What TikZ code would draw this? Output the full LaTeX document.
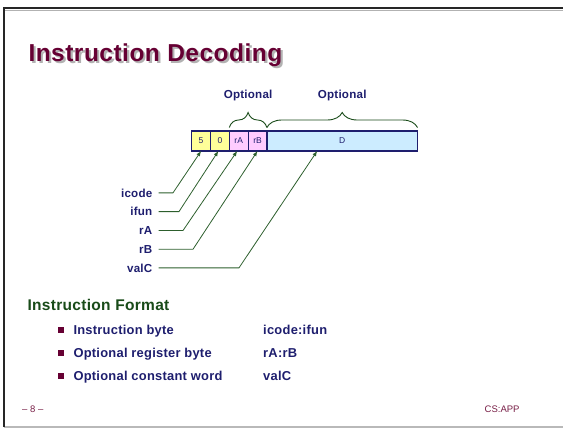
\documentclass[tikz,border=0pt]{standalone}
\usepackage{fontspec}
\setmainfont{Liberation Sans}
\newfontfamily\slidefont[LetterSpace=2]{Liberation Sans}
\usetikzlibrary{arrows,positioning,decorations.pathreplacing}
\definecolor{navy}{RGB}{30,30,110}
\definecolor{titlered}{RGB}{102,0,51}
\definecolor{darkgreen}{RGB}{25,75,25}
\definecolor{linegreen}{RGB}{45,95,45}
\definecolor{byteyellow}{RGB}{255,255,153}
\definecolor{regpink}{RGB}{255,204,255}
\definecolor{constblue}{RGB}{204,236,255}
\definecolor{footred}{RGB}{120,30,70}
\tikzset{title/.style={anchor=base west,inner sep=0pt,text=titlered,font=\slidefont\fontsize{24.5}{29}\selectfont\bfseries}}
\tikzset{cell/.style={draw=navy,line width=1.2pt,outer sep=0pt,inner sep=0pt,minimum height=20pt,text=navy,font=\fontsize{8.5}{10}\selectfont}}
\tikzset{ibyte/.style={cell,fill=byteyellow,minimum width=18.8pt}}
\tikzset{rbyte/.style={cell,fill=regpink,minimum width=18.8pt}}
\tikzset{cword/.style={cell,fill=constblue,minimum width=150.6pt}}
\tikzset{field/.style={anchor=base east,inner xsep=6pt,inner ysep=0pt,text=navy,font=\slidefont\fontsize{11.6}{14}\selectfont\bfseries}}
\tikzset{ptr/.style={draw=linegreen,line width=0.8pt,-latex}}
\tikzset{opt/.style={decorate,decoration={brace,amplitude=15pt},draw=darkgreen,line width=0.9pt}}
\tikzset{optlabel/.style={anchor=base,inner sep=0pt,text=navy,font=\slidefont\fontsize{11.6}{14}\selectfont\bfseries}}
\tikzset{heading/.style={anchor=base west,inner sep=0pt,text=darkgreen,font=\slidefont\fontsize{15.5}{18}\selectfont\bfseries}}
\tikzset{item/.style={anchor=base west,inner sep=0pt,text=navy,font=\slidefont\fontsize{12.9}{15}\selectfont\bfseries}}
\tikzset{bullet/.style={fill=titlered,minimum size=6pt,inner sep=0pt}}
\tikzset{foot/.style={inner sep=0pt,text=footred,font=\fontsize{9.5}{11}\selectfont}}

\begin{document}
\begin{tikzpicture}[x=1pt,y=-1pt]
    \useasboundingbox (0,0) rectangle (563,428);
    % slide frame
    \draw[gray!55,line width=1.2pt] (4,427) -- (570,427);
    \draw[gray!60,line width=1pt] (5,10.3) -- (570,10.3);
    \draw[black!85,line width=1.8pt] (4,427) -- (4,8.3) -- (570,8.3);

    \node[title,text=gray!60] (shadow) at (30.5,64) {Instruction Decoding};
    \node[title] (title) at (28.3,61.7) {Instruction Decoding};

    % instruction bytes
    \node[ibyte] (icodecell) at (201.1,141) {5};
    \node[ibyte,right=0pt of icodecell] (ifuncell) {0};
    \node[rbyte,right=0pt of ifuncell] (racell) {rA};
    \node[rbyte,right=0pt of racell] (rbcell) {rB};
    \node[cword,right=0pt of rbcell] (dcell) {D};

    \draw[opt] ([yshift=3.5pt]racell.north west) -- ([yshift=3.5pt]rbcell.north east)
        node[midway,optlabel,yshift=29pt] (opt1) {Optional};
    \draw[opt] ([yshift=3.5pt]dcell.north west) -- ([yshift=3.5pt]dcell.north east)
        node[midway,optlabel,yshift=29pt] (opt2) {Optional};

    \node[field] (icode) at (158.5,197) {icode};
    \node[field] (ifun) at (158.5,215.75) {ifun};
    \node[field] (ra) at (158.5,234.5) {rA};
    \node[field] (rb) at (158.5,253.25) {rB};
    \node[field] (valc) at (158.5,272) {valC};

        \draw[ptr] (icode.east) -- ++(14.5,0) -- (icodecell.south);
        \draw[ptr] (ifun.east) -- ++(20.5,0) -- ([xshift=-1.5pt]ifuncell.south);
        \draw[ptr] (ra.east) -- ++(24.5,0) -- ([xshift=-1.5pt]racell.south);
        \draw[ptr] (rb.east) -- ++(34.5,0) -- (rbcell.south);
        \draw[ptr] (valc.east) -- ++(80.5,0) -- ([xshift=-25pt]dcell.south);

    % instruction format
    \node[heading] (format) at (27.3,310.5) {Instruction Format};
    \node[item] (item1) at (73.3,334) {Instruction byte};
    \node[item] (item2) at (73.3,357.3) {Optional register byte};
    \node[item] (item3) at (73.3,380.6) {Optional constant word};
    \node[bullet] (bul1) at (61.3,329.6) {};
    \node[bullet] (bul2) at (61.3,352.9) {};
    \node[bullet] (bul3) at (61.3,376.2) {};
    \node[item] (enc1) at (263,334) {icode:ifun};
    \node[item] (enc2) at (263,357.3) {rA:rB};
    \node[item] (enc3) at (263,380.6) {valC};

    \node[foot,anchor=west] (page) at (22,409.5) {-- 8 --};
    \node[foot,anchor=west] (course) at (484.5,409.5) {CS:APP};
  \end{tikzpicture}
\end{document}
